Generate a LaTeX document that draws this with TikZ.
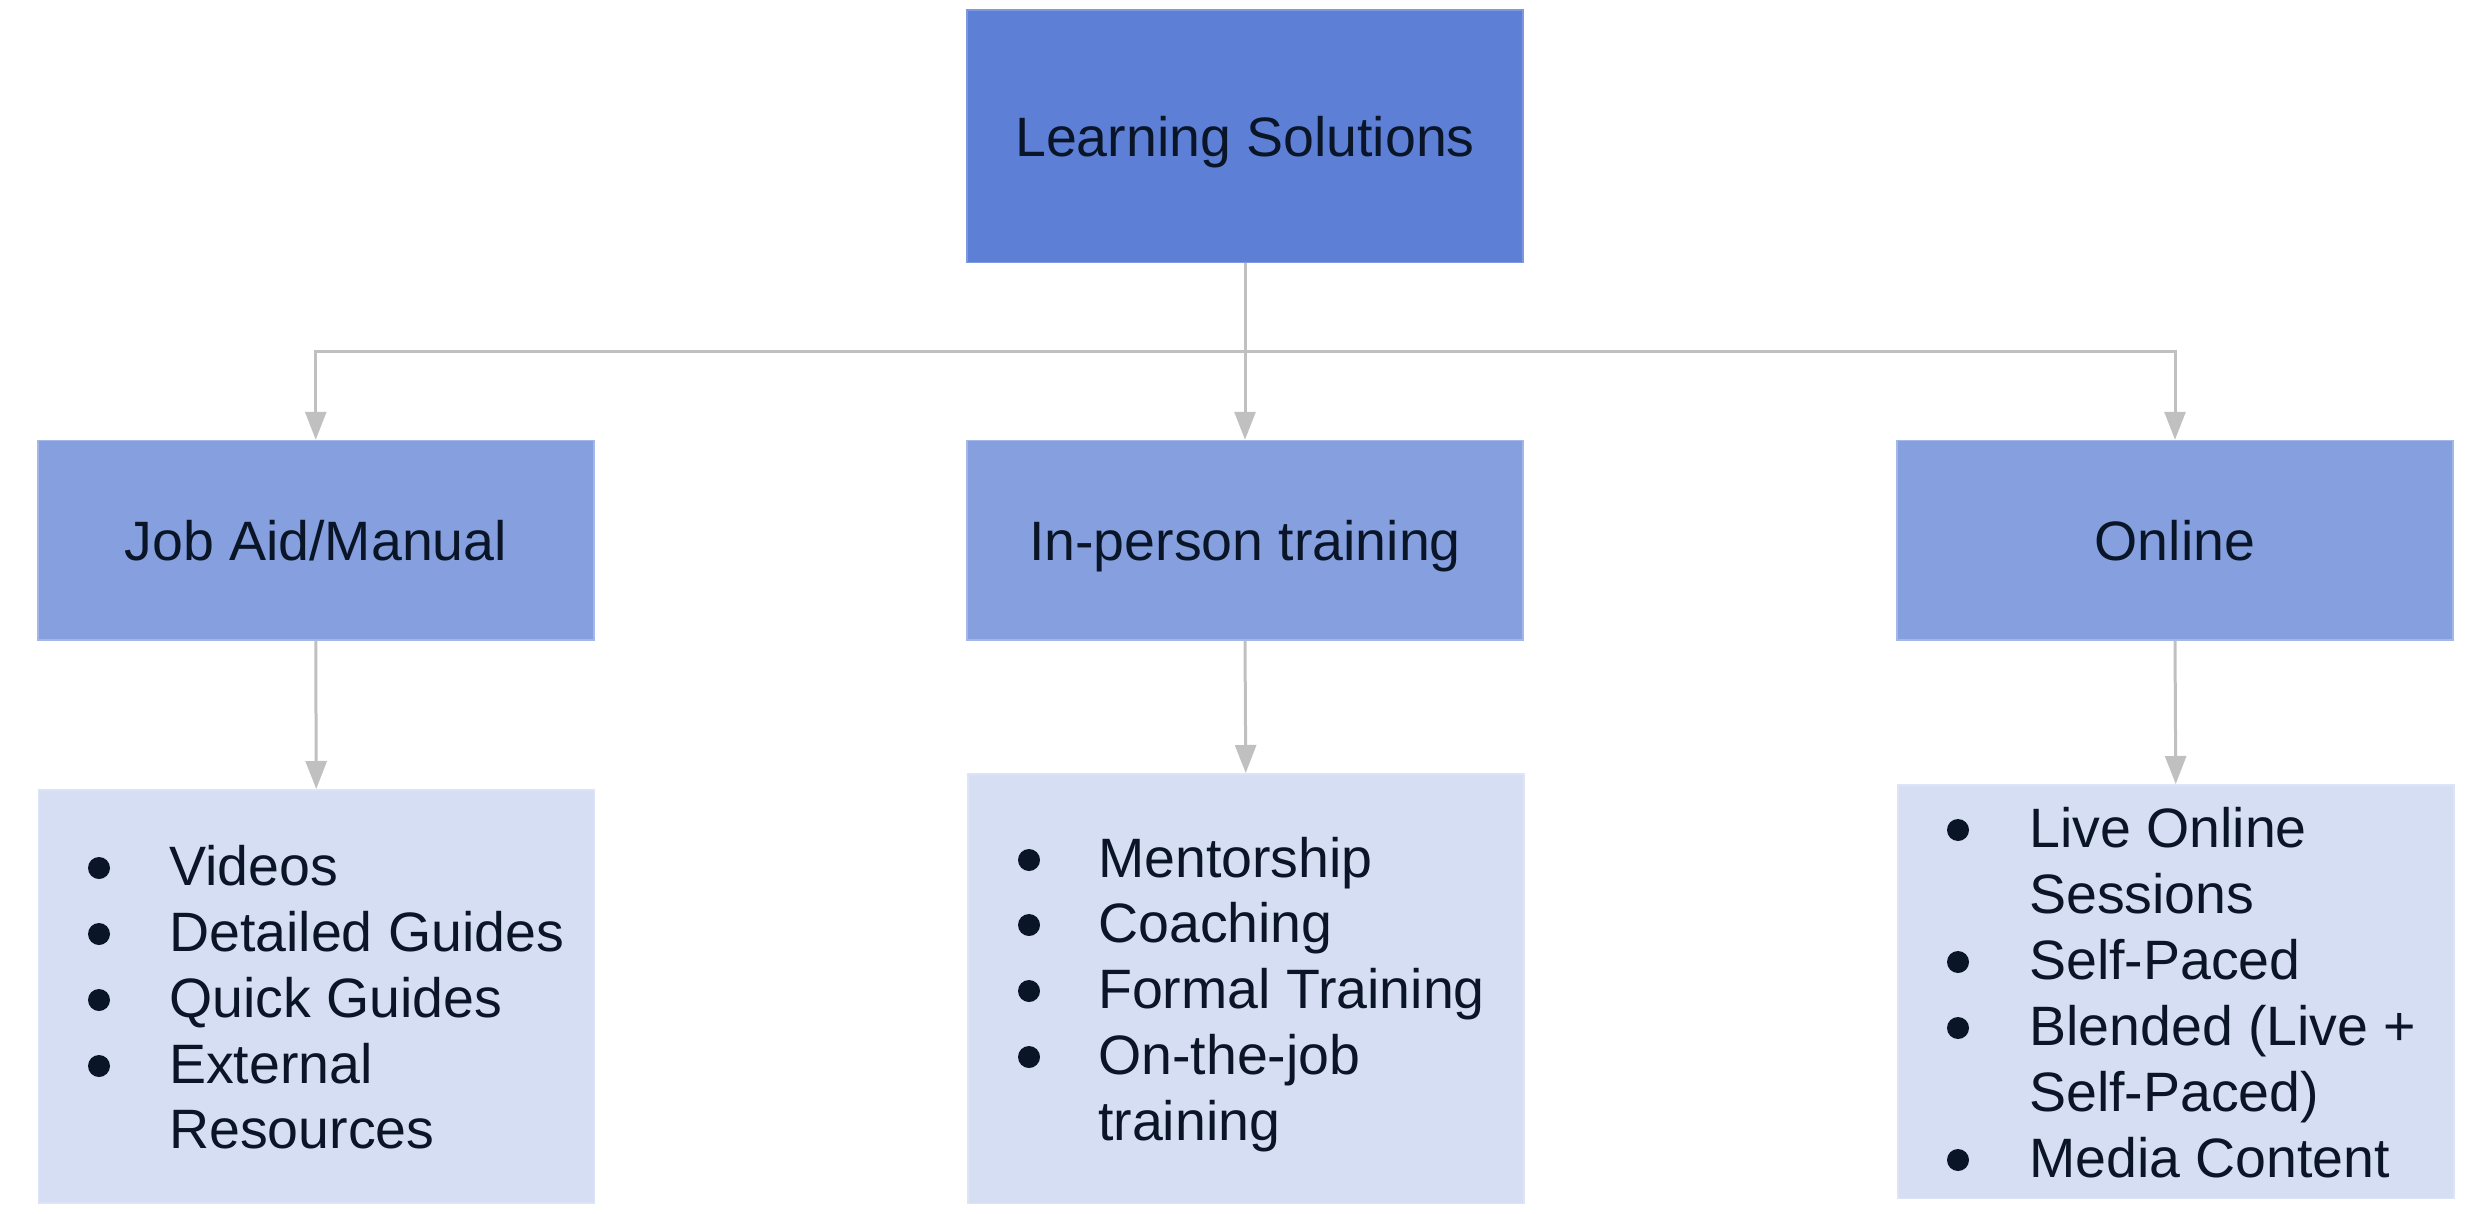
\documentclass[tikz,border=0pt]{standalone}
\usepackage{fontspec}
\setmainfont{Liberation Sans}
\usetikzlibrary{arrows.meta}
\definecolor{topfill}{HTML}{5D80D6}
\definecolor{topedge}{HTML}{7C98DE}
\definecolor{midfill}{HTML}{859FDF}
\definecolor{midedge}{HTML}{A3B7E8}
\definecolor{lowfill}{HTML}{D5DEF2}
\definecolor{lowedge}{HTML}{DDE4F5}
\definecolor{txtcol}{HTML}{0A1628}
\definecolor{conncol}{HTML}{C0C0C0}
\tikzset{
  boxtext/.style={font=\fontsize{55.5}{66}\selectfont, text=txtcol},
  headbox/.style={boxtext, fill=topfill, draw=topedge, line width=1.5pt, inner sep=0pt,
    minimum width=556pt, minimum height=252.5pt, text height=40pt, text depth=0pt},
  catbox/.style={boxtext, fill=midfill, draw=midedge, line width=1.5pt, inner sep=0pt,
    minimum width=556pt, minimum height=199.5pt, text height=40pt, text depth=0pt},
  listbox/.style={fill=lowfill, draw=lowedge, line width=1.5pt, inner sep=0pt,
    minimum width=556pt, anchor=north west},
  itemtext/.style={boxtext, inner sep=0pt, anchor=base west},
  conn/.style={draw=conncol, line width=3pt, -{Triangle[width=21pt,length=28pt]}},
  dotmark/.style={fill=txtcol}
}
\begin{document}
\begin{tikzpicture}[x=1pt,y=-1pt]
\useasboundingbox (0,0) rectangle (2480,1214);
% top
\node[headbox] (ls) at (1245,136.25) {Learning Solutions};
% categories
\node[catbox] (jam) at (315.75,540.25) {Job Aid/Manual};
\node[catbox] (ipt) at (1245,540.25) {In-person training};
\node[catbox] (onl) at (2175,540.25) {Online};
% lists
\node[listbox, minimum height=413pt] (jobl) at (37.5,789) {};
\node[listbox, minimum height=429.5pt] (iptl) at (967,773) {};
\node[listbox, minimum height=413.5pt] (onll) at (1897,784) {};
% bus coordinate
\coordinate (bus) at (1245,351);
% connectors
\draw[conn] (ls.south) -- (ls.south |- bus) -| (jam.north);
\draw[conn] (ls.south) -- (ipt.north);
\draw[conn] (ls.south) -- (ls.south |- bus) -| (onl.north);
\draw[conn] (jam.south) -- (jobl.north);
\draw[conn] (ipt.south) -- (iptl.north);
\draw[conn] (onl.south) -- (onll.north);
% left list
\node[itemtext] (j1) at (169,885) {Videos};
\node[itemtext] (j2) at (169,951) {Detailed Guides};
\node[itemtext] (j3) at (169,1017) {Quick Guides};
\node[itemtext] (j4) at (169,1083) {External};
\node[itemtext] (j5) at (169,1148) {Resources};
\foreach \yy in {885,951,1017,1083} \fill[dotmark] (99,\yy-17) circle (11pt);
% middle list
\node[itemtext] (p1) at (1098,877) {Mentorship};
\node[itemtext] (p2) at (1098,942) {Coaching};
\node[itemtext] (p3) at (1098,1008) {Formal Training};
\node[itemtext] (p4) at (1098,1074) {On-the-job};
\node[itemtext] (p5) at (1098,1140) {training};
\foreach \yy in {877,942,1008,1074} \fill[dotmark] (1029,\yy-17) circle (11pt);
% right list
\node[itemtext] (o1) at (2029,847) {Live Online};
\node[itemtext] (o2) at (2029,913) {Sessions};
\node[itemtext] (o3) at (2029,979) {Self-Paced};
\node[itemtext] (o4) at (2029,1045) {Blended (Live +};
\node[itemtext] (o5) at (2029,1111) {Self-Paced)};
\node[itemtext] (o6) at (2029,1177) {Media Content};
\foreach \yy in {847,979,1045,1177} \fill[dotmark] (1958,\yy-17) circle (11pt);
\end{tikzpicture}
\end{document}
